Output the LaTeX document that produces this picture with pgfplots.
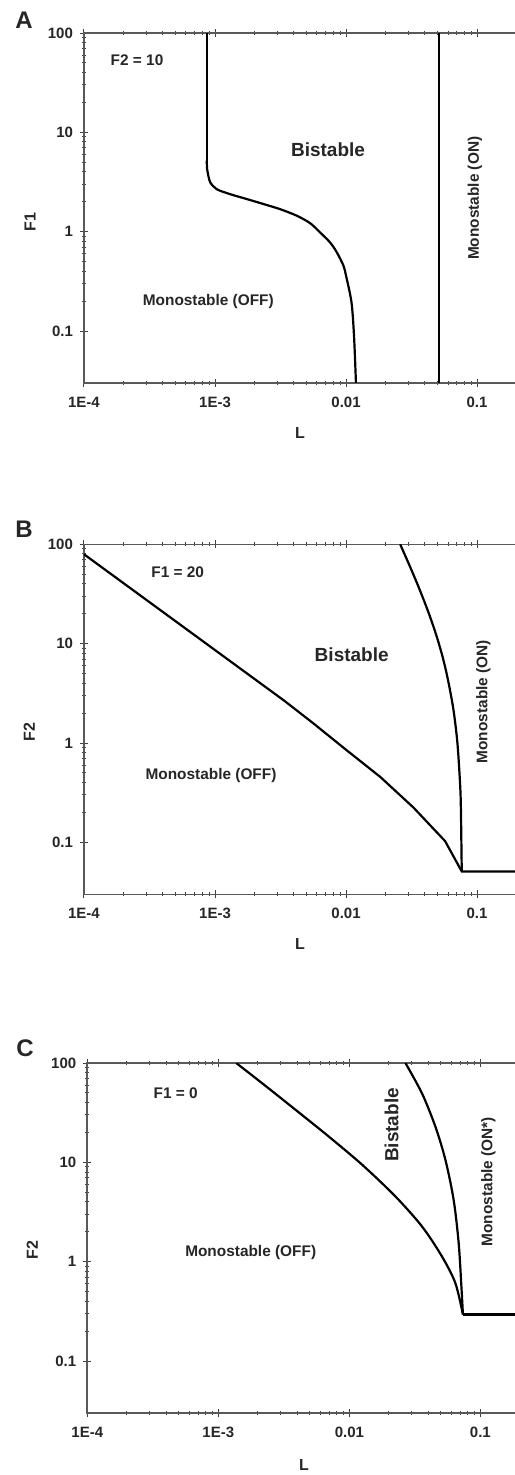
\documentclass[border=0pt]{standalone}
\usepackage{pgfplots}
\pgfplotsset{compat=1.18}
\usepackage{fontspec}
\setmainfont{Liberation Sans}
\newcommand{\fs}[1]{\fontsize{#1}{#1}\selectfont}
\pgfplotsset{
  every axis/.append style={
    scale only axis,
    width=216.25pt, height=175pt,
    xmin=1e-4, xmax=0.2, ymin=0.03, ymax=100,
    xtick={1e-4,1e-3,1e-2,1e-1}, xticklabels={1E-4,1E-3,0.01,0.1},
    ytick={0.1,1,10,100}, yticklabels={0.1,1,10,100},
    ytick pos=left,
    tick align=center,
    major tick length=4pt, minor tick length=2pt,
    tick style={black!75, line width=0.5pt},
    axis line style={black!65, line width=0.8pt},
    tick label style={font=\bfseries\fs{7.5}, text=black!85},
    xticklabel style={yshift=-1.5pt},
  },
}
\tikzset{mycurve/.style={black, line width=1.1pt}}
\begin{document}
\begin{tikzpicture}
% ---------- Panel A ----------
\begin{loglogaxis}[anchor=south west, at={(42pt,-191.5pt)}]
\addplot[mycurve] coordinates {(8.65e-4,100) (8.65e-4,5.2)};
\addplot[mycurve, smooth] coordinates {
(8.65e-4,5.2) (8.7e-4,4.3) (8.9e-4,3.65) (9.2e-4,3.13) (1.03e-3,2.68)
(1.30e-3,2.39) (1.75e-3,2.13) (2.34e-3,1.90) (3.12e-3,1.69) (4.2e-3,1.45)
(5.31e-3,1.22) (6.3e-3,0.99) (7.55e-3,0.78) (8.5e-3,0.62) (9.55e-3,0.456)
(0.0100,0.36) (0.0110,0.195) (0.0115,0.090) (0.0119,0.03)};
\addplot[mycurve] coordinates {(0.0513,0.03) (0.0513,100)};
\end{loglogaxis}
% ---------- Panel B ----------
\begin{loglogaxis}[anchor=south west, at={(42pt,-447.15pt)}]
\addplot[mycurve] coordinates {
(1e-4,79.4) (3.37e-3,2.67) (5.62e-3,1.58) (0.01,0.855) (0.0182,0.457) (0.0327,0.224)
(0.057,0.103) (0.0764,0.051) (0.2,0.051)};
\addplot[mycurve, smooth] coordinates {
(0.0259,100) (0.0309,58.9) (0.0363,35.5) (0.0427,20.4) (0.0490,12.0) (0.0550,7.08)
(0.0603,4.17) (0.0661,2.14) (0.0708,1.0) (0.0741,0.398) (0.0752,0.229) (0.0764,0.051)};
\end{loglogaxis}
% ---------- Panel C ----------
\begin{loglogaxis}[anchor=south west, at={(43.65pt,-706.5pt)}]
\addplot[mycurve, smooth] coordinates {
(1.37e-3,100) (2.18e-3,62) (3.91e-3,33.6) (7.0e-3,18.1) (0.0126,9.4) (0.0225,4.53)
(0.0359,2.26) (0.0509,1.13) (0.0644,0.61) (0.0736,0.294)};
\addplot[mycurve] coordinates {(0.0736,0.294) (0.2,0.294)};
\addplot[mycurve, smooth] coordinates {
(0.0268,100) (0.0359,49.3) (0.0454,22.8) (0.0541,10.6) (0.0625,4.2) (0.0683,1.54)
(0.0716,0.57) (0.0736,0.294)};
\end{loglogaxis}
% ---------- text (pixel-based positions) ----------
\begin{scope}[x=0.5pt, y=-0.5pt, every node/.style={inner sep=0pt, text=black!85}]
% A
\node[font=\bfseries\fs{12}] at (24,20.7) {A};
\node[font=\bfseries\fs{7.7}] at (137,60) {F2 = 10};
\node[font=\bfseries\fs{9.5}] at (328,150) {Bistable};
\node[font=\bfseries\fs{7.7}] at (208.3,301.7) {Monostable (OFF)};
\node[font=\bfseries\fs{7.7}, rotate=90] at (475,198.3) {Monostable (ON)};
\node[font=\bfseries\fs{8}, rotate=90] at (30,221.7) {F1};
\node[font=\bfseries\fs{8}] at (300,433.3) {L};
% B
\node[font=\bfseries\fs{12}] at (24,529.3) {B};
\node[font=\bfseries\fs{7.7}] at (177.7,571.7) {F1 = 20};
\node[font=\bfseries\fs{9.5}] at (351.7,655) {Bistable};
\node[font=\bfseries\fs{7.7}] at (211,775.7) {Monostable (OFF)};
\node[font=\bfseries\fs{7.7}, rotate=90] at (483.3,701.7) {Monostable (ON)};
\node[font=\bfseries\fs{8}, rotate=90] at (29.3,731.7) {F2};
\node[font=\bfseries\fs{8}] at (300,944) {L};
% C
\node[font=\bfseries\fs{12}] at (25,1048.3) {C};
\node[font=\bfseries\fs{7.7}] at (175.7,1093.3) {F1 = 0};
\node[font=\bfseries\fs{9.5}, rotate=90] at (391.7,1125) {Bistable};
\node[font=\bfseries\fs{7.7}] at (250.7,1252.7) {Monostable (OFF)};
\node[font=\bfseries\fs{7.7}, rotate=90] at (488.3,1181.7) {Monostable (ON*)};
\node[font=\bfseries\fs{8}, rotate=90] at (32.3,1250) {F2};
\node[font=\bfseries\fs{8}] at (304,1465) {L};
\end{scope}
\pgfresetboundingbox
\path[use as bounding box] (0pt,0pt) rectangle (257pt,-737.5pt);
\end{tikzpicture}
\end{document}
